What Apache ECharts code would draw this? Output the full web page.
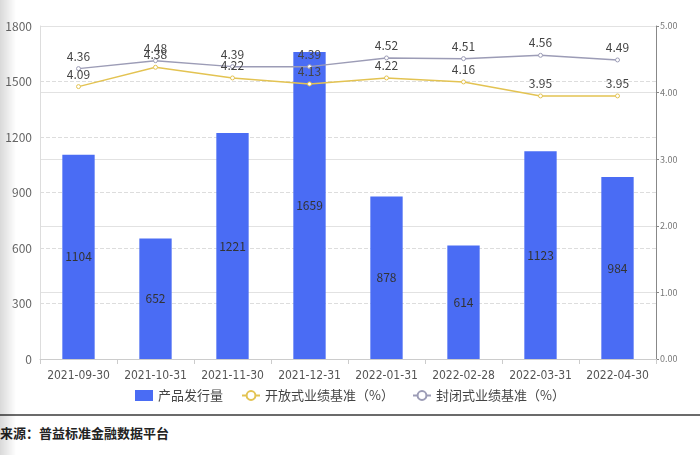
<!DOCTYPE html>
<html><head><meta charset="utf-8">
<script src="https://cdn.jsdelivr.net/npm/echarts@6/dist/echarts.min.js"></script>
<style>
html,body{margin:0;padding:0;background:#fff;width:700px;height:455px;overflow:hidden;font-family:"Noto Sans CJK SC","Noto Sans",sans-serif;}
#c{position:absolute;left:0;top:0;width:700px;height:410px;}
#sep{position:absolute;left:0;top:414px;width:700px;height:2px;background:#6b6b6b;}
#src{position:absolute;left:0;top:423px;font-size:13px;color:#222;font-weight:bold;}
#shade{position:absolute;left:0;top:0;width:16px;height:455px;background:linear-gradient(to right,rgba(0,0,0,0.15),rgba(0,0,0,0));pointer-events:none;}
</style></head>
<body>
<div id="c"></div>
<div id="sep"></div>
<div id="src">来源：普益标准金融数据平台</div>
<div id="shade"></div>
<script>
const categories = ['2021-09-30','2021-10-31','2021-11-30','2021-12-31','2022-01-31','2022-02-28','2022-03-31','2022-04-30'];
const issuance = [1104,652,1221,1659,878,614,1123,984];
const openBench = [4.09,4.38,4.22,4.13,4.22,4.16,3.95,3.95];
const closedBench = [4.36,4.48,4.39,4.39,4.52,4.51,4.56,4.49];
const names = ['产品发行量','开放式业绩基准（%）','封闭式业绩基准（%）'];

const chart = echarts.init(document.getElementById('c'));
chart.setOption({
  animation:false,
  textStyle:{fontFamily:'"Noto Sans CJK SC","Noto Sans",sans-serif'},
  grid:{left:40,right:44,top:26,bottom:51},
  legend:{
    bottom:3,left:'center',itemGap:18,itemWidth:18,itemHeight:11,
    textStyle:{fontSize:13,color:'#444'},
    data:[{name:names[0],icon:'rect',itemStyle:{color:'#4a6cf4'}},{name:names[1]},{name:names[2]}]
  },
  xAxis:{
    type:'category',data:categories,
    axisLine:{lineStyle:{color:'#ccc'}},
    axisTick:{show:true,lineStyle:{color:'#ccc'}},
    axisLabel:{color:'#555',fontSize:12,margin:11,interval:0,fontFamily:'"Liberation Sans Narrow","DejaVu Sans Condensed","Noto Sans",sans-serif'}
  },
  yAxis:[{
    type:'value',min:0,max:1800,interval:300,
    axisLine:{show:true,lineStyle:{color:'#ddd'}},
    axisLabel:{color:'#666',fontSize:12,formatter:v=>String(v)},
    splitLine:{lineStyle:{color:'#ddd',type:'dashed'}}
  },{
    type:'value',min:0,max:5,interval:1,position:'right',
    axisLine:{show:true,lineStyle:{color:'#888'}},
    axisTick:{show:true,length:3,lineStyle:{color:'#888'}},
    axisLabel:{color:'#777',fontSize:9,formatter:v=>v.toFixed(2),margin:4},
    splitLine:{lineStyle:{color:'#e2e2e2'}}
  }],
  series:[{
    name:names[0],type:'bar',data:issuance,barWidth:'42%',
    itemStyle:{color:'#4a6cf4'},
    label:{show:true,position:'inside',color:'#333',fontSize:12}
  },{
    name:names[1],type:'line',yAxisIndex:1,data:openBench,
    symbol:'circle',symbolSize:4,
    lineStyle:{color:'#e3c352',width:1.5},
    itemStyle:{color:'#fff',borderColor:'#e3c352',borderWidth:1},
    label:{show:true,position:'top',color:'#444',fontSize:12,distance:4}
  },{
    name:names[2],type:'line',yAxisIndex:1,data:closedBench,
    symbol:'circle',symbolSize:4,
    lineStyle:{color:'#9c9cb6',width:1.5},
    itemStyle:{color:'#fff',borderColor:'#9c9cb6',borderWidth:1},
    label:{show:true,position:'top',color:'#444',fontSize:12,distance:4}
  }]
});
</script>
</body></html>
